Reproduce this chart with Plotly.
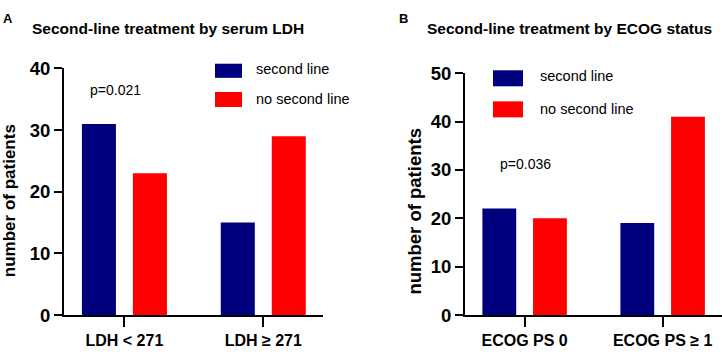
import plotly.graph_objects as go

W, H = 722, 358

# Data
cats_a = ["LDH < 271", "LDH ≥ 271"]
second_a = [31, 15]
nosecond_a = [23, 29]

cats_b = ["ECOG PS 0", "ECOG PS ≥ 1"]
second_b = [22, 19]
nosecond_b = [20, 41]

series_names = ["second line", "no second line"]
colors = ["#00007f", "#ff0000"]

FONT = "Arial, Liberation Sans, sans-serif"

fig = go.Figure()

def px_x(x):
    return x / W

def px_y(y):
    return 1 - y / H

bw = 0.245
offs = [-0.306, 0.061]

for vals, name, col, off in zip([second_a, nosecond_a], series_names, colors, offs):
    fig.add_trace(go.Bar(x=cats_a, y=vals, name=name, marker=dict(color=col, line=dict(width=0)),
                         width=bw, offset=off, xaxis="x", yaxis="y", showlegend=False))
for vals, name, col, off in zip([second_b, nosecond_b], series_names, colors, offs):
    fig.add_trace(go.Bar(x=cats_b, y=vals, name=name, marker=dict(color=col, line=dict(width=0)),
                         width=bw, offset=off, xaxis="x2", yaxis="y2", showlegend=False))

axis_common = dict(showline=True, linecolor="black", linewidth=2, ticks="outside",
                   tickcolor="black", tickwidth=2, showgrid=False, zeroline=False)
yfont = dict(family=FONT, size=18.5, color="black", weight="bold")
xfont = dict(family=FONT, size=16, color="black", weight="bold")

fig.update_layout(
    width=W, height=H, margin=dict(l=0, r=0, t=0, b=0),
    plot_bgcolor="white", paper_bgcolor="white",
    barmode="overlay", showlegend=False,
    xaxis=dict(domain=[px_x(64), px_x(323)], range=[-0.435, 1.43], anchor="y",
               tickfont=xfont, ticklen=10, **axis_common),
    yaxis=dict(domain=[px_y(323), px_y(61)], range=[0, 40], tickvals=[0, 10, 20, 30, 40],
               anchor="x", ticklen=8, tickfont=yfont, **axis_common),
    xaxis2=dict(domain=[px_x(465), 1.0], range=[-0.432, 1.43], anchor="y2",
                tickfont=xfont, ticklen=10, **axis_common),
    yaxis2=dict(domain=[px_y(323), px_y(66)], range=[0, 50], tickvals=[0, 10, 20, 30, 40, 50],
                anchor="x2", ticklen=8, tickfont=yfont, **axis_common),
)

ann = []
def txt(x, y, s, size, bold=False, xanchor="center", yanchor="middle", angle=0):
    ann.append(dict(x=px_x(x), y=px_y(y), xref="paper", yref="paper", text=s, showarrow=False,
                    xanchor=xanchor, yanchor=yanchor, textangle=angle, borderpad=0,
                    font=dict(family=FONT, size=size, color="black", weight="bold" if bold else "normal")))

# panel labels
txt(2, 8, "A", 13, True, xanchor="left")
txt(398, 8, "B", 13, True, xanchor="left")
# titles
txt(168, 19, "Second-line treatment by serum LDH", 15.5, True)
txt(569, 19, "Second-line treatment by ECOG status", 15.5, True)
# y titles
txt(9, 202, "number of patients", 17, True, angle=-90)
txt(415, 212, "number of patients", 18.5, True, angle=-90)
# p-values
txt(89, 84, "p=0.021", 14, xanchor="left")
txt(499, 163, "p=0.036", 14, xanchor="left")
# legends
txt(255, 62, "second line", 14.5, xanchor="left")
txt(255, 93, "no second line", 14.5, xanchor="left")
txt(539, 69, "second line", 14.5, xanchor="left")
txt(539, 104, "no second line", 14.5, xanchor="left")

shapes = []
def rect(x0, y0, x1, y1, col):
    shapes.append(dict(type="rect", xref="paper", yref="paper", x0=px_x(x0), x1=px_x(x1),
                       y0=px_y(y1), y1=px_y(y0), fillcolor=col, line=dict(width=0)))
rect(215, 56, 242, 71, colors[0])
rect(215, 86, 242, 102, colors[1])
rect(493, 63, 523, 80, colors[0])
rect(493, 96, 523, 113, colors[1])

fig.update_layout(annotations=ann, shapes=shapes)

fig.write_html("out.html", config={"displayModeBar": False},
               post_script="document.body.style.margin='0';document.body.style.overflow='hidden';")
